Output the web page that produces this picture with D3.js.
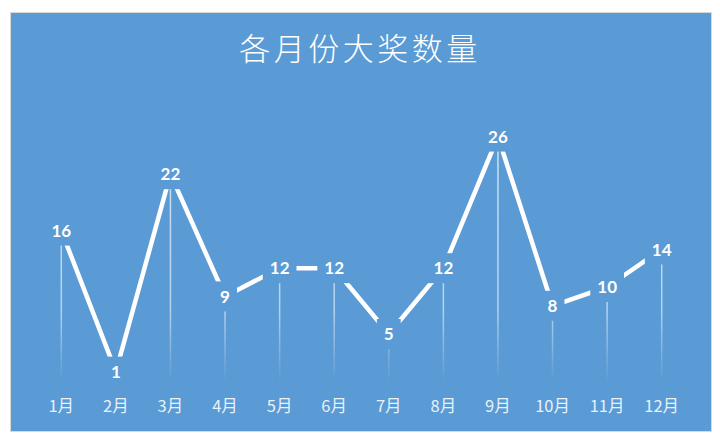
<!DOCTYPE html>
<html><head><meta charset="utf-8">
<script src="https://cdn.jsdelivr.net/npm/d3@7"></script>
<style>html,body{margin:0;padding:0;background:#fff;}</style>
</head><body>
<svg id="c" width="720" height="439"></svg>
<script>
const months = ["1月","2月","3月","4月","5月","6月","7月","8月","9月","10月","11月","12月"];
const values = [16,1,22,9,12,12,5,12,26,8,10,14];
const title = "各月份大奖数量";

const svg = d3.select("#c");
const bg = "#5B9BD5";
svg.append("rect").attr("x",10.5).attr("y",12.5).attr("width",701).attr("height",419)
  .attr("fill",bg).attr("stroke","#d9d9d9").attr("stroke-width",1);

const x = d3.scaleBand().domain(months).range([34,689]);
const cx = m => x(m) + x.bandwidth()/2;
const y = d3.scaleLinear().domain([0,30]).range([381,99]);

const defs = svg.append("defs");
const g = defs.append("linearGradient").attr("id","drop").attr("gradientUnits","userSpaceOnUse")
  .attr("x1",0).attr("x2",0).attr("y1",y(30)).attr("y2",y(0));
g.append("stop").attr("offset","0%").attr("stop-color","#fff").attr("stop-opacity",0.75);
g.append("stop").attr("offset","75%").attr("stop-color","#fff").attr("stop-opacity",0.55);
g.append("stop").attr("offset","100%").attr("stop-color","#fff").attr("stop-opacity",0);

svg.append("text").attr("x",360).attr("y",60).attr("text-anchor","middle")
  .attr("fill","#fff").attr("font-family","'Noto Sans CJK SC'").attr("font-weight",300)
  .attr("font-size",31).attr("letter-spacing",3.5).text(title);

const data = months.map((m,i)=>({m, v: values[i]}));

svg.append("g").selectAll("line").data(data).join("line")
  .attr("x1",d=>cx(d.m)).attr("x2",d=>cx(d.m))
  .attr("y1",d=>y(d.v)).attr("y2",y(0))
  .attr("stroke","url(#drop)").attr("stroke-width",1.5);

svg.append("path").datum(data)
  .attr("d", d3.line().x(d=>cx(d.m)).y(d=>y(d.v)))
  .attr("fill","none").attr("stroke","#fff").attr("stroke-width",4.5).attr("stroke-linejoin","miter");

const lab = svg.append("g").selectAll("g").data(data).join("g")
  .attr("transform",d=>`translate(${cx(d.m)},${y(d.v)})`);
const txt = lab.append("text").attr("text-anchor","middle").attr("dy","0.36em")
  .attr("fill","#fff").attr("font-family","Lato, 'Open Sans', sans-serif").attr("font-weight",700)
  .attr("font-size",17).text(d=>d.v);
lab.each(function(){
  const t = d3.select(this).select("text");
  const w = t.node().getComputedTextLength();
  d3.select(this).insert("rect","text").attr("x",-w/2-7).attr("y",-15)
    .attr("width",w+14).attr("height",30).attr("fill",bg);
});

svg.append("g").selectAll("text").data(months).join("text")
  .attr("x",d=>cx(d)).attr("y",412).attr("text-anchor","middle")
  .attr("fill","#fff").attr("fill-opacity",0.88)
  .attr("font-family","'Noto Sans CJK SC'").attr("font-size",16.5).text(d=>d);
</script>
</body></html>
